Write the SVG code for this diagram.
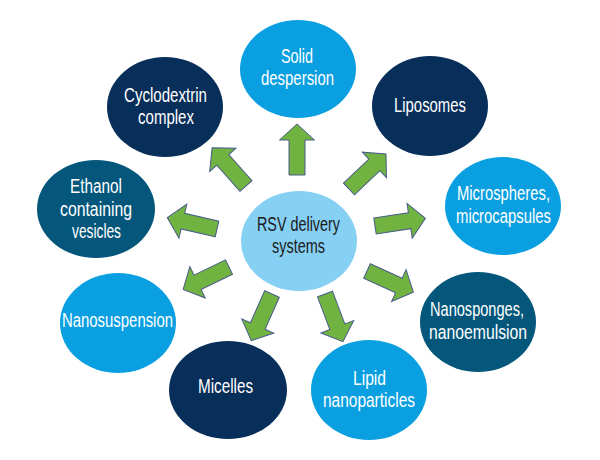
<svg xmlns="http://www.w3.org/2000/svg" xmlns:xlink="http://www.w3.org/1999/xlink" width="600" height="460" viewBox="0 0 600 460">
<defs>
<path id="arr" d="M0,-8 L35,-8 L35,-17.5 L51,0 L35,17.5 L35,8 L0,8 Z"/>
</defs>
<style>
.navy{fill:#082e5a}
.teal{fill:#04577b}
.bright{fill:#0a9fe0}
.light{fill:#86d0f4}
.t{font-family:"Liberation Sans",Arial,sans-serif;font-size:20px;fill:#ffffff;text-anchor:middle}
.c{fill:#1b1b1b}
.a{fill:#71b340;stroke:#4a5c8c;stroke-width:1}
</style>
<rect width="600" height="460" fill="#ffffff"/>
<g id="connectors">
<use href="#arr" class="a" transform="translate(297,175) rotate(-90)"/>
<use href="#arr" class="a" transform="translate(246,186) rotate(-131.6)"/>
<use href="#arr" class="a" transform="translate(349,189) rotate(-43.5)"/>
<use href="#arr" class="a" transform="translate(217,229) rotate(-167)"/>
<use href="#arr" class="a" transform="translate(375,226) rotate(-8.6)"/>
<use href="#arr" class="a" transform="translate(229,267) rotate(154)"/>
<use href="#arr" class="a" transform="translate(272,294) rotate(114)"/>
<use href="#arr" class="a" transform="translate(325,294) rotate(69.4)"/>
<use href="#arr" class="a" transform="translate(367,271) rotate(24.6)"/>
</g>
<g id="center">
<ellipse class="light" cx="299" cy="241" rx="58" ry="50"/>
<text class="t c" x="298.5" y="231" textLength="83" lengthAdjust="spacingAndGlyphs">RSV delivery</text>
<text class="t c" x="298.5" y="253" textLength="53" lengthAdjust="spacingAndGlyphs">systems</text>
</g>
<g id="solid">
<ellipse class="bright" cx="298" cy="69" rx="58" ry="49"/>
<text class="t" x="297" y="63" textLength="32" lengthAdjust="spacingAndGlyphs">Solid</text>
<text class="t" x="297.5" y="85" textLength="73" lengthAdjust="spacingAndGlyphs">despersion</text>
</g>
<g id="cyclodextrin">
<ellipse class="navy" cx="165" cy="107" rx="58" ry="50"/>
<text class="t" x="165.5" y="102" textLength="83" lengthAdjust="spacingAndGlyphs">Cyclodextrin</text>
<text class="t" x="166" y="124" textLength="56" lengthAdjust="spacingAndGlyphs">complex</text>
</g>
<g id="liposomes">
<ellipse class="navy" cx="430" cy="106" rx="58" ry="50"/>
<text class="t" x="430" y="112" textLength="72" lengthAdjust="spacingAndGlyphs">Liposomes</text>
</g>
<g id="ethanol">
<ellipse class="teal" cx="96" cy="209" rx="59" ry="49"/>
<text class="t" x="96" y="193" textLength="52" lengthAdjust="spacingAndGlyphs">Ethanol</text>
<text class="t" x="96" y="216" textLength="72" lengthAdjust="spacingAndGlyphs">containing</text>
<text class="t" x="96.5" y="238" textLength="49" lengthAdjust="spacingAndGlyphs">vesicles</text>
</g>
<g id="microspheres">
<ellipse class="bright" cx="503" cy="206" rx="58" ry="49"/>
<text class="t" x="503.5" y="200" textLength="93" lengthAdjust="spacingAndGlyphs">Microspheres,</text>
<text class="t" x="503.5" y="223" textLength="95" lengthAdjust="spacingAndGlyphs">microcapsules</text>
</g>
<g id="nanosuspension">
<ellipse class="bright" cx="118" cy="323" rx="58" ry="50"/>
<text class="t" x="117.5" y="327" textLength="111" lengthAdjust="spacingAndGlyphs">Nanosuspension</text>
</g>
<g id="nanosponges">
<ellipse class="teal" cx="478" cy="322" rx="58" ry="50"/>
<text class="t" x="477" y="316" textLength="94" lengthAdjust="spacingAndGlyphs">Nanosponges,</text>
<text class="t" x="478" y="339" textLength="98" lengthAdjust="spacingAndGlyphs">nanoemulsion</text>
</g>
<g id="micelles">
<ellipse class="navy" cx="228" cy="390" rx="59" ry="49"/>
<text class="t" x="225.5" y="393" textLength="55" lengthAdjust="spacingAndGlyphs">Micelles</text>
</g>
<g id="lipid">
<ellipse class="bright" cx="369" cy="390" rx="58" ry="50"/>
<text class="t" x="369.5" y="385" textLength="33" lengthAdjust="spacingAndGlyphs">Lipid</text>
<text class="t" x="369" y="407" textLength="92" lengthAdjust="spacingAndGlyphs">nanoparticles</text>
</g>
</svg>
